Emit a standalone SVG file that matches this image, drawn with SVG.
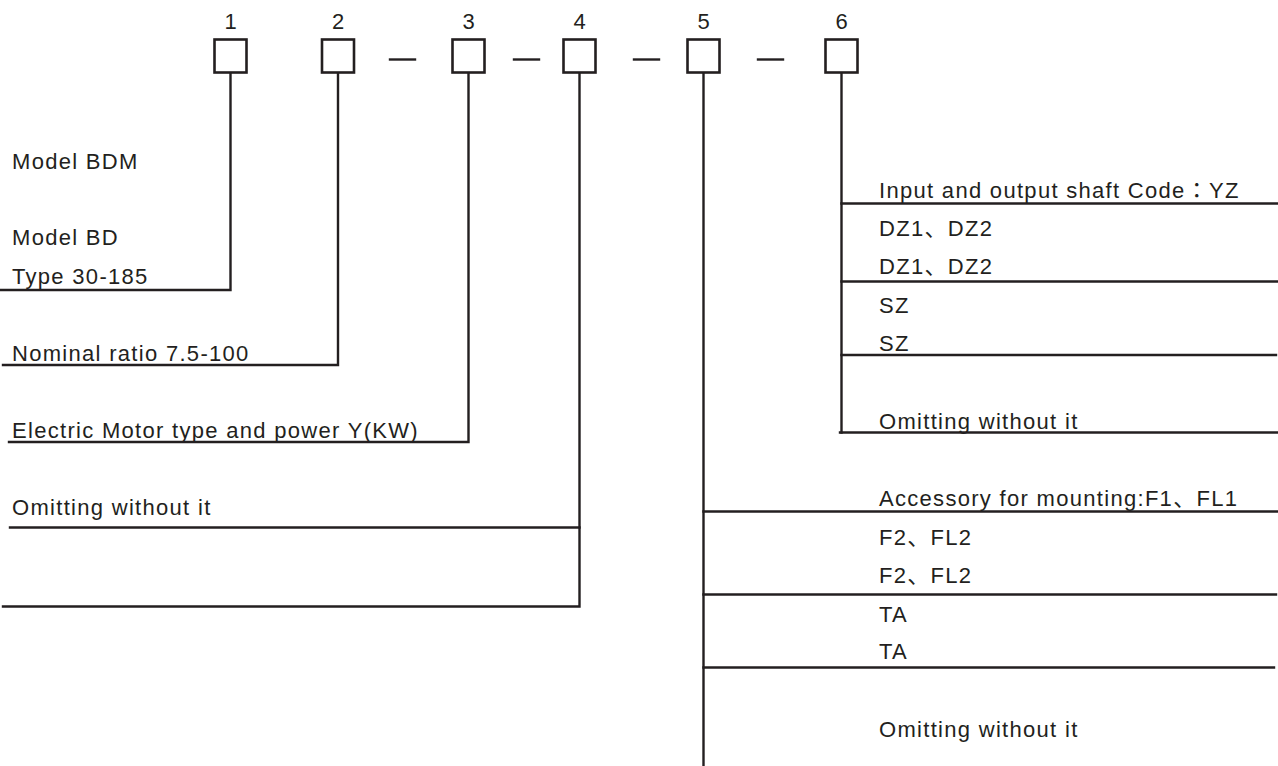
<svg xmlns="http://www.w3.org/2000/svg" width="1278" height="766" viewBox="0 0 1278 766">
<style>
  .bg{fill:#ffffff}
  .box{fill:#ffffff;stroke:#231f20;stroke-width:2.6}
  .ln{stroke:#231f20;stroke-width:2.4;fill:none;stroke-linecap:square}
  .num{font-family:"Liberation Sans","Noto Sans CJK SC",sans-serif;font-size:22px;fill:#231f20;text-anchor:middle}
  .lbl{font-family:"Liberation Sans","Noto Sans CJK SC",sans-serif;font-size:22px;letter-spacing:1.3px;fill:#231f20}
  .tc{font-family:"Noto Sans CJK TC",sans-serif}
</style>
<rect class="bg" x="0" y="0" width="1278" height="766"/>

<g id="node1">
  <text class="num" x="230.5" y="29">1</text>
  <rect class="box" x="214.5" y="39.5" width="32" height="33"/>
</g>
<g id="node2">
  <text class="num" x="338" y="29">2</text>
  <rect class="box" x="322" y="39.5" width="32" height="33"/>
</g>
<g id="node3">
  <text class="num" x="468.5" y="29">3</text>
  <rect class="box" x="452.5" y="39.5" width="32" height="33"/>
</g>
<g id="node4">
  <text class="num" x="579.5" y="29">4</text>
  <rect class="box" x="563.5" y="39.5" width="32" height="33"/>
</g>
<g id="node5">
  <text class="num" x="703.5" y="29">5</text>
  <rect class="box" x="687.5" y="39.5" width="32" height="33"/>
</g>
<g id="node6">
  <text class="num" x="841.5" y="29">6</text>
  <rect class="box" x="825.5" y="39.5" width="32" height="33"/>
</g>

<g id="dashes">
  <line class="ln" x1="390" y1="59.5" x2="415" y2="59.5"/>
  <line class="ln" x1="514" y1="59.5" x2="539" y2="59.5"/>
  <line class="ln" x1="634" y1="59.5" x2="659" y2="59.5"/>
  <line class="ln" x1="758" y1="59.5" x2="783" y2="59.5"/>
</g>

<g id="connectors">
  <polyline class="ln" points="1,290 230.5,290 230.5,74"/>
  <polyline class="ln" points="3,365 338,365 338,74"/>
  <polyline class="ln" points="9,442 468.5,442 468.5,74"/>
  <polyline class="ln" points="10,527.5 579.5,527.5"/>
  <polyline class="ln" points="3,606.5 579.5,606.5 579.5,74"/>
  <line class="ln" x1="703.5" y1="74" x2="703.5" y2="766"/>
  <line class="ln" x1="703.5" y1="511.5" x2="1278" y2="511.5"/>
  <line class="ln" x1="703.5" y1="594.5" x2="1276" y2="594.5"/>
  <line class="ln" x1="703.5" y1="667.5" x2="1274" y2="667.5"/>
  <line class="ln" x1="841.5" y1="74" x2="841.5" y2="432.5"/>
  <line class="ln" x1="841.5" y1="203.5" x2="1278" y2="203.5"/>
  <line class="ln" x1="841.5" y1="281.5" x2="1278" y2="281.5"/>
  <line class="ln" x1="841.5" y1="355" x2="1276" y2="355"/>
  <line class="ln" x1="840" y1="432.5" x2="1278" y2="432.5"/>
</g>

<g id="labels-left">
  <text class="lbl" x="12" y="169">Model BDM</text>
  <text class="lbl" x="12" y="245">Model BD</text>
  <text class="lbl" x="12" y="284">Type 30-185</text>
  <text class="lbl" x="12" y="360.5">Nominal ratio 7.5-100</text>
  <text class="lbl" x="12" y="437.5">Electric Motor type and power Y(KW)</text>
  <text class="lbl" x="12" y="515">Omitting without it</text>
</g>

<g id="labels-6">
  <text class="lbl" x="879" y="198">Input and output shaft Code<tspan class="tc">：</tspan>YZ</text>
  <text class="lbl" x="879" y="236">DZ1、DZ2</text>
  <text class="lbl" x="879" y="274">DZ1、DZ2</text>
  <text class="lbl" x="879" y="312.5">SZ</text>
  <text class="lbl" x="879" y="351">SZ</text>
  <text class="lbl" x="879" y="428.5">Omitting without it</text>
</g>

<g id="labels-5">
  <text class="lbl" x="879" y="506">Accessory for mounting:F1、FL1</text>
  <text class="lbl" x="879" y="545">F2、FL2</text>
  <text class="lbl" x="879" y="583">F2、FL2</text>
  <text class="lbl" x="879" y="621.5">TA</text>
  <text class="lbl" x="879" y="659">TA</text>
  <text class="lbl" x="879" y="736.5">Omitting without it</text>
</g>
</svg>
